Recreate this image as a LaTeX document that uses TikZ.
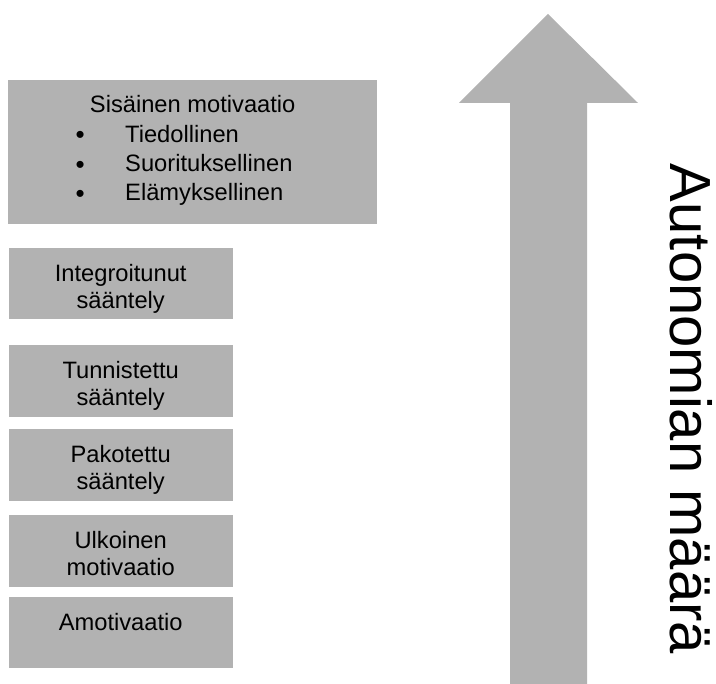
\documentclass[tikz,border=0pt]{standalone}
\usepackage{fontspec}
\setmainfont{Liberation Sans}
\usepackage{xcolor}
\usetikzlibrary{positioning}

\definecolor{boxgray}{RGB}{178,178,178}
\newcommand{\boxfont}{\fontsize{23.7}{27}\selectfont}
\newcommand{\listfont}{\fontsize{23.7}{29.2}\selectfont}
\newcommand{\listdot}{\makebox[90pt][c]{\raisebox{-1.5pt}{\fontsize{26}{29}\selectfont\textbullet}}}

\begin{document}
\begin{tikzpicture}[
  x=1pt, y=-1pt,
  box/.style={fill=boxgray, draw=none, inner sep=0, anchor=north west, minimum width=224pt, minimum height=72pt},
  txt/.style={font=\boxfont, align=center, inner sep=0}
]
\useasboundingbox (0,0) rectangle (716,684);
% stages of motivation
\node[box, minimum width=369pt, minimum height=144pt] (sis) at (8,80) {};
\node[box, minimum height=71pt] (integ) at (8.5,248) {};
\node[box] (tunn) at (8.5,345) {};
\node[box] (pakot) at (8.5,429) {};
\node[box] (ulk) at (8.5,515) {};
\node[box, minimum height=71pt] (amot) at (8.5,597) {};

\node[txt, below=15pt of sis.north] (sisotsikko) {Sisäinen motivaatio};
\node[txt, font=\listfont, align=left, below right=45pt and 27pt of sis.north west] (sislista)
  {\listdot Tiedollinen\\
   \listdot Suorituksellinen\\
   \listdot Elämyksellinen};
\node[txt, below=16pt of integ.north] (integtxt) {Integroitunut\\sääntely};
\node[txt, below=16pt of tunn.north] (tunntxt) {Tunnistettu\\sääntely};
\node[txt, below=16pt of pakot.north] (pakottxt) {Pakotettu\\sääntely};
\node[txt, below=16pt of ulk.north] (ulktxt) {Ulkoinen\\motivaatio};
\node[txt, below=16pt of amot.north] (amottxt) {Amotivaatio};

% autonomy arrow
\fill[boxgray] (548,14) -- (638,103) -- (587,103) -- (587,684) -- (510,684)
  -- (510,103) -- (459,103) -- cycle;
\node[inner sep=0, rotate=-90, font=\fontsize{58}{60}\selectfont] (autonomia) at (691.5,409) {Autonomian määrä};
\end{tikzpicture}
\end{document}
